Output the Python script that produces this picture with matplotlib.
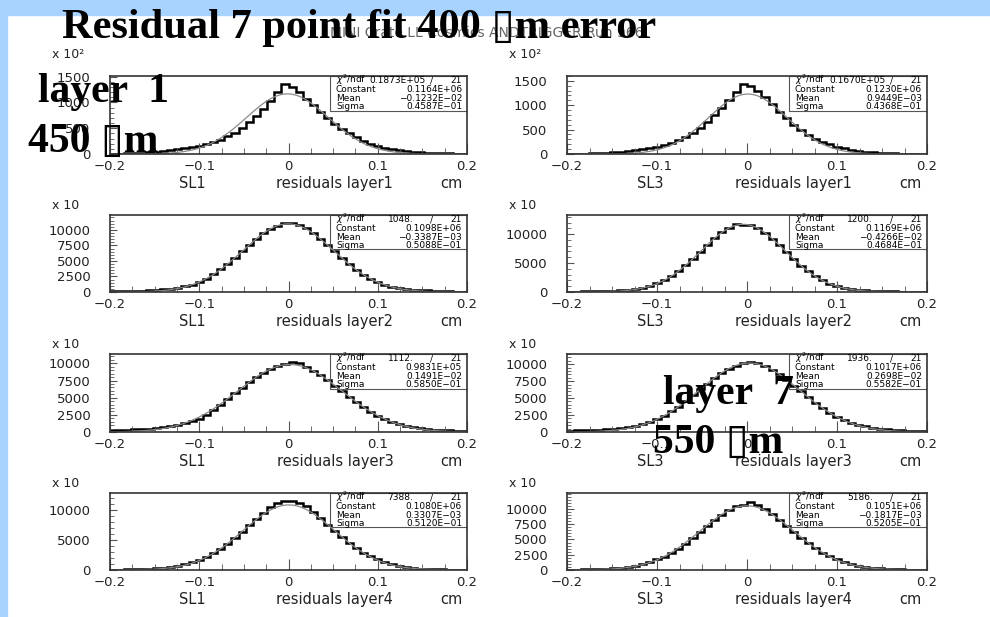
import numpy as np
import matplotlib.pyplot as plt
from matplotlib.patches import Rectangle
from matplotlib.ticker import MultipleLocator, AutoMinorLocator

W, H = 990, 617

# 50 bins from -0.2 to 0.2 cm
edges = np.linspace(-0.2, 0.2, 51)

# bin contents, in the units shown on each y axis (x 10^2 or x 10)
sl1_layer1 = [5, 8, 12, 17, 24, 33, 45, 58, 72, 90, 110, 133, 160, 190, 230, 280, 340, 410, 500, 610,
              730, 870, 1020, 1200, 1355, 1300, 1200, 1070, 940, 820, 700, 590, 490, 400, 320, 255, 200, 160, 125, 98,
              77, 60, 46, 35, 26, 19, 14, 10, 7, 5]
sl3_layer1 = [3, 5, 8, 12, 17, 24, 33, 45, 58, 75, 95, 120, 150, 185, 230, 285, 350, 430, 530, 650,
              790, 940, 1100, 1270, 1440, 1390, 1300, 1170, 1020, 870, 730, 600, 490, 395, 315, 250, 195, 150, 115, 88,
              66, 50, 37, 27, 20, 14, 10, 7, 5, 3]
sl1_layer2 = [90, 110, 140, 180, 230, 300, 380, 460, 560, 700, 900, 1200, 1600, 2150, 2850, 3650, 4550, 5500, 6550, 7600,
              8550, 9450, 10200, 10700, 11050, 11100, 10800, 10300, 9500, 8600, 7600, 6550, 5500, 4500, 3600, 2800, 2100, 1550, 1150, 850,
              650, 500, 400, 320, 250, 200, 150, 110, 80, 60]
sl3_layer2 = [60, 70, 90, 110, 140, 180, 230, 300, 400, 550, 750, 1050, 1500, 2050, 2750, 3600, 4600, 5750, 6950, 8150,
              9300, 10300, 11100, 11800, 11600, 11650, 11100, 10200, 9200, 8050, 6850, 5650, 4550, 3550, 2700, 2000, 1450, 1000, 720, 520,
              380, 290, 220, 170, 130, 100, 80, 60, 45, 35]
sl1_layer3 = [250, 280, 320, 370, 430, 500, 600, 720, 880, 1080, 1300, 1550, 1900, 2450, 3150, 3950, 4800, 5650, 6450, 7250,
              8000, 8650, 9200, 9650, 9900, 10150, 10000, 9500, 8950, 8300, 7550, 6750, 5950, 5150, 4350, 3600, 2950, 2350, 1850, 1450,
              1120, 880, 700, 560, 450, 360, 290, 230, 180, 140]
sl3_layer3 = [200, 230, 260, 300, 350, 410, 490, 600, 740, 930, 1180, 1500, 1900, 2400, 3050, 3750, 4550, 5400, 6300, 7150,
              8000, 8750, 9350, 9800, 10100, 10250, 10150, 9700, 9150, 8500, 7700, 6850, 6000, 5100, 4300, 3500, 2850, 2250, 1750, 1350,
              1050, 820, 640, 500, 400, 320, 250, 200, 160, 120]
sl1_layer4 = [60, 70, 90, 110, 140, 190, 260, 360, 500, 700, 950, 1300, 1700, 2200, 2800, 3500, 4300, 5300, 6300, 7400,
              8500, 9500, 10500, 11200, 11500, 11500, 11200, 10600, 9700, 8600, 7500, 6400, 5400, 4400, 3600, 2900, 2300, 1750, 1300, 950,
              680, 480, 340, 240, 170, 120, 90, 70, 55, 45]
sl3_layer4 = [60, 70, 90, 110, 150, 200, 280, 380, 520, 720, 980, 1320, 1720, 2200, 2800, 3500, 4300, 5200, 6200, 7200,
              8150, 9000, 9800, 10400, 10700, 11100, 10700, 10000, 9100, 8200, 7250, 6250, 5300, 4400, 3550, 2850, 2250, 1750, 1300, 960,
              700, 500, 360, 260, 190, 140, 100, 75, 55, 45]

# gaussian fit results (from the stat boxes)
fit_const = [0.1164E+06, 0.1230E+06, 0.1098E+06, 0.1169E+06, 0.9831E+05, 0.1017E+06, 0.1080E+06, 0.1051E+06]
fit_mean = [-0.1232E-02, 0.9449E-03, -0.3387E-03, -0.4266E-02, 0.1491E-02, 0.2698E-02, 0.3307E-03, -0.1817E-03]
fit_sigma = [0.4587E-01, 0.4368E-01, 0.5088E-01, 0.4684E-01, 0.5850E-01, 0.5582E-01, 0.5120E-01, 0.5205E-01]
chi2 = ['0.1873E+05', '0.1670E+05', '1048.', '1200.', '1112.', '1936.', '7388.', '5186.']
const_txt = ['0.1164E+06', '0.1230E+06', '0.1098E+06', '0.1169E+06', '0.9831E+05', '0.1017E+06', '0.1080E+06', '0.1051E+06']
mean_txt = ['-0.1232E-02', '0.9449E-03', '-0.3387E-03', '-0.4266E-02', '0.1491E-02', '0.2698E-02', '0.3307E-03', '-0.1817E-03']
sigma_txt = ['0.4587E-01', '0.4368E-01', '0.5088E-01', '0.4684E-01', '0.5850E-01', '0.5582E-01', '0.5120E-01', '0.5205E-01']

counts = [sl1_layer1, sl3_layer1, sl1_layer2, sl3_layer2, sl1_layer3, sl3_layer3, sl1_layer4, sl3_layer4]
unit = [100, 100, 10, 10, 10, 10, 10, 10]
unit_txt = ['x 10²', 'x 10²', 'x 10', 'x 10', 'x 10', 'x 10', 'x 10', 'x 10']
ymax = [1510, 1600, 12400, 13300, 11360, 11500, 12780, 12600]
yticks = [[0, 500, 1000, 1500], [0, 500, 1000, 1500],
          [0, 2500, 5000, 7500, 10000], [0, 5000, 10000],
          [0, 2500, 5000, 7500, 10000], [0, 2500, 5000, 7500, 10000],
          [0, 5000, 10000], [0, 2500, 5000, 7500, 10000]]
sl_names = ['SL1', 'SL3']
layer_names = ['residuals layer1', 'residuals layer2', 'residuals layer3', 'residuals layer4']

fig = plt.figure(figsize=(W / 100, H / 100), dpi=100)
fig.patch.set_facecolor('white')
blue = '#a9d3ff'
fig.patches.append(Rectangle((0, 1 - 15 / H), 1, 15 / H, transform=fig.transFigure, color=blue, zorder=0))
fig.patches.append(Rectangle((0, 0), 7 / W, 1, transform=fig.transFigure, color=blue, zorder=0))

col_x = [(110, 467), (567, 927)]
row_y = [(76, 154), (215, 292), (354, 432), (493, 570)]
xfit = np.linspace(-0.2, 0.2, 400)

for i in range(8):
    r, c = i // 2, i % 2
    x0, x1 = col_x[c]
    y0, y1 = row_y[r]
    ax = fig.add_axes([x0 / W, 1 - y1 / H, (x1 - x0) / W, (y1 - y0) / H])
    ax.stairs(counts[i], edges, color='black', lw=1.8)
    g = fit_const[i] / unit[i] * np.exp(-0.5 * ((xfit - fit_mean[i]) / fit_sigma[i]) ** 2)
    ax.plot(xfit, g, color='#8a8a8a', lw=0.9)
    ax.set_xlim(-0.2, 0.2)
    ax.set_ylim(0, ymax[i])
    ax.set_xticks([-0.2, -0.1, 0, 0.1, 0.2])
    ax.set_xticklabels(['−0.2', '−0.1', '0', '0.1', '0.2'])
    ax.xaxis.set_minor_locator(MultipleLocator(0.025))
    ax.set_yticks(yticks[i])
    ax.set_yticklabels([str(v) for v in yticks[i]])
    ax.yaxis.set_minor_locator(AutoMinorLocator())
    ax.tick_params(which='both', direction='in', color='#555', labelsize=9.5, labelcolor='#222')
    ax.tick_params(axis='x', which='major', length=8, pad=4)
    ax.tick_params(axis='x', which='minor', length=4)
    ax.tick_params(axis='y', which='major', length=5, pad=14)
    ax.tick_params(axis='y', which='minor', length=3)
    for s in ax.spines.values():
        s.set_color('#333')
        s.set_linewidth(1.2)

    # axis labels
    ax.text(0.23, -0.38, sl_names[c], transform=ax.transAxes, ha='center', va='center', fontsize=10.5, color='#222')
    ax.text(0.63, -0.38, layer_names[r], transform=ax.transAxes, ha='center', va='center', fontsize=10.5, color='#222')
    ax.text(0.955, -0.38, 'cm', transform=ax.transAxes, ha='center', va='center', fontsize=10.5, color='#222')
    uy = 1.28 if r == 0 else 1.12
    ax.text(-0.162, uy, unit_txt[i], transform=ax.transAxes, ha='left', va='center', fontsize=9, color='#222')

    # stat box
    ax.add_patch(Rectangle((0.616, 0.555), 0.384, 0.445, transform=ax.transAxes, fill=False, ec='#555', lw=0.8))
    fs = 6.5
    ys = [0.905, 0.79, 0.675, 0.575]
    ax.text(0.633, ys[0], r'$\chi^2$/ndf', transform=ax.transAxes, fontsize=fs, va='baseline')
    xv = 0.885 if len(chi2[i]) > 6 else 0.85
    ax.text(xv, ys[0], chi2[i], transform=ax.transAxes, fontsize=fs, va='baseline', ha='right')
    ax.text(0.9, ys[0], '/', transform=ax.transAxes, fontsize=fs, va='baseline', ha='center')
    ax.text(0.986, ys[0], '21', transform=ax.transAxes, fontsize=fs, va='baseline', ha='right')
    for lab, val, yy in zip(['Constant', 'Mean', 'Sigma'], [const_txt[i], mean_txt[i], sigma_txt[i]], ys[1:]):
        ax.text(0.633, yy, lab, transform=ax.transAxes, fontsize=fs, va='baseline')
        ax.text(0.986, yy, val.replace('-', '−'), transform=ax.transAxes, fontsize=fs, va='baseline', ha='right')

# run title (mostly hidden behind the slide title)
fig.text(487 / W, 1 - 37 / H, 'MINI Crate LL Cosmics ANDTRIGGER Run 966', ha='center', va='baseline',
         fontsize=10, color='#666')

big = dict(family=['Liberation Serif', 'DejaVu Sans'], weight='bold', color='black', va='baseline')
fig.text(62 / W, 1 - 38 / H, 'Residual 7 point fit 400 ▯m error', fontsize=30.5, **big)
fig.text(38 / W, 1 - 102 / H, 'layer  1', fontsize=30, **big)
fig.text(28 / W, 1 - 152 / H, '450 ▯m', fontsize=30, **big)
fig.text(663 / W, 1 - 404 / H, 'layer  7', fontsize=30, **big)
fig.text(653 / W, 1 - 453 / H, '550 ▯m', fontsize=30, **big)

fig.savefig('out.png', dpi=100)
